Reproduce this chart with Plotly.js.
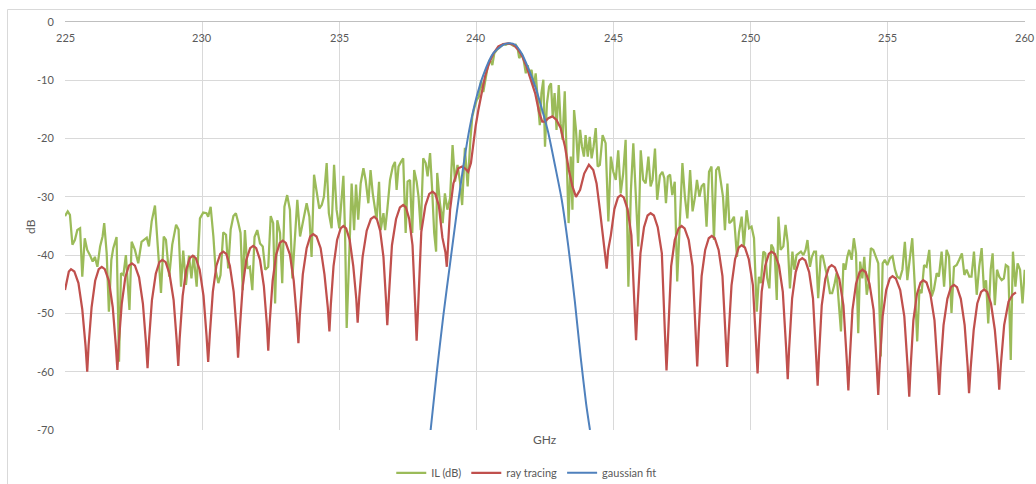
<!DOCTYPE html>
<html>
<head>
<meta charset="utf-8">
<script src="https://cdn.plot.ly/plotly-3.0.1.min.js"></script>
<style>
html,body{margin:0;padding:0;background:#fff;}
#chart{width:1036px;height:484px;}
</style>
</head>
<body>
<div id="chart"></div>
<script>
// ---------- data ----------
const seriesNames = ["IL (dB)", "ray tracing", "gaussian fit"];

const ilFreq = [
225.00,225.10,225.18,225.27,225.36,225.45,225.55,225.63,225.72,225.81,225.91,226.01,226.09,226.18,226.28,226.37,226.43,226.52,226.60,226.69,
226.76,226.88,226.97,227.04,227.13,227.22,227.35,227.43,227.55,227.67,227.79,227.89,227.98,228.06,228.16,228.28,228.40,228.50,228.60,228.68,
228.80,228.91,229.05,229.14,229.23,229.31,229.41,229.52,229.61,229.69,229.80,229.92,230.04,230.16,230.22,230.31,230.41,230.49,230.59,230.67,
230.77,230.87,230.95,231.04,231.14,231.23,231.32,231.40,231.48,231.56,231.65,231.74,231.83,231.91,232.01,232.11,232.21,232.30,232.41,232.50,
232.59,232.66,232.74,232.84,232.92,233.00,233.10,233.20,233.29,233.38,233.47,233.57,
233.71,233.81,233.91,233.99,234.08,234.17,234.27,234.36,234.44,234.54,234.62,
234.72,234.81,234.90,235.00,235.09,235.15,235.21,235.27,235.37,235.45,235.54,235.61,235.69,235.78,235.88,235.96,236.06,236.14,236.22,236.30,
236.36,236.45,236.51,236.61,236.67,236.75,236.85,236.95,237.03,237.09,237.16,237.25,237.33,237.42,237.49,237.58,237.66,237.73,237.82,237.89,
237.97,238.06,238.15,238.22,238.31,238.38,238.46,238.53,238.57,238.67,238.77,238.85,238.94,239.04,239.13,239.22,239.31,239.40,239.48,239.58,
239.68,239.78,239.85,239.92,240.01,240.09,240.17,240.25,240.34,240.41,240.49,240.58,240.65,240.74,240.82,240.90,240.98,241.07,241.16,241.26,
241.35,241.43,241.50,241.56,241.65,241.72,241.80,241.87,241.93,242.01,242.09,242.16,242.23,242.31,242.37,242.44,242.50,242.57,242.65,242.72,
242.78,242.85,242.92,243.00,243.07,243.14,243.22,243.29,243.36,243.44,243.50,243.56,243.63,243.70,243.78,243.85,243.92,243.98,244.06,244.13,
244.20,244.27,244.35,244.42,
244.50,244.60,244.71,244.81,244.90,244.99,245.08,245.17,245.26,245.35,245.44,245.54,245.63,245.72,245.82,245.90,245.99,246.08,246.17,246.27,
246.35,246.42,246.51,246.59,246.69,246.78,246.85,246.91,246.98,247.06,247.14,247.23,247.32,247.42,247.51,247.60,247.69,247.79,247.88,247.97,
248.04,248.13,248.21,248.30,248.39,248.48,248.57,248.66,248.74,248.83,248.91,248.99,249.06,249.15,249.22,249.30,249.39,
249.50,249.57,249.67,249.75,249.85,249.94,250.03,250.12,250.22,250.30,250.37,250.46,250.53,250.60,250.68,250.75,250.82,250.88,250.95,251.01,
251.09,251.19,251.27,251.35,251.43,251.52,251.59,251.67,251.76,251.83,251.92,252.00,252.07,252.16,252.23,252.31,252.38,252.46,252.55,252.62,
252.71,252.79,252.89,252.97,253.05,253.13,253.22,253.29,253.38,253.45,253.52,253.59,253.68,253.76,253.84,253.92,253.99,254.07,254.14,254.23,
254.30,254.38,254.47,254.55,254.65,254.74,254.81,254.89,
254.98,255.08,255.17,255.26,255.34,255.44,255.53,255.62,255.71,255.81,255.89,255.99,256.07,256.15,256.23,256.32,256.41,256.51,256.60,256.68,
256.78,256.86,256.96,257.05,257.14,257.23,257.32,257.41,257.51,257.60,257.70,257.79,257.87,257.97,258.05,258.14,258.24,258.33,258.42,258.50,
258.58,258.66,258.75,258.82,258.90,258.98,259.06,259.15,259.23,259.30,259.39,259.48,259.56,259.65,259.73,259.82,259.91,259.99
];
const ilDb = [
-33.3,-32.5,-33.1,-38.2,-37.4,-35.7,-35.4,-43.7,-37.1,-39.1,-40.0,-41.1,-40.3,-42.0,-38.5,-36.8,-34.5,-39.7,-49.7,-40.8,
-38.8,-36.9,-58.3,-43.1,-43.4,-40.0,-49.4,-37.7,-39.1,-41.4,-37.7,-37.3,-37.0,-38.5,-34.2,-31.5,-39.7,-46.5,-36.8,-37.4,
-43.7,-38.2,-34.8,-35.6,-45.4,-39.2,-45.1,-40.1,-44.0,-40.0,-45.4,-33.7,-32.7,-32.8,-33.4,-31.7,-36.8,-42.5,-44.8,-43.4,
-36.1,-36.5,-42.3,-35.6,-33.3,-32.8,-34.5,-36.2,-46.0,-35.7,-42.3,-42.0,-46.0,-36.9,-35.7,-38.0,-38.5,-42.5,-42.0,-33.3,
-34.5,-48.3,-34.0,-36.2,-44.8,-31.7,-29.7,-32.2,-44.0,-36.8,-30.5,-36.8,
-33.4,-31.1,-33.4,-40.3,-26.2,-29.4,-32.0,-31.4,-30.0,-24.2,-32.8,
-35.4,-24.5,-32.2,-35.4,-30.0,-26.4,-36.2,-52.5,-39.1,-27.7,-35.7,-27.9,-33.9,-27.7,-25.1,-27.1,-31.1,-25.4,-29.4,-32.2,
-33.9,-27.4,-35.7,-32.8,-35.7,-32.2,-27.1,-24.8,-24.0,-28.8,-24.8,-24.0,-23.4,-36.2,-27.4,-27.1,-36.2,-25.4,-27.4,-30.0,
-35.7,-23.4,-24.2,-26.5,-22.5,-28.2,-36.2,-39.4,-25.9,-31.1,-34.5,-29.4,-32.2,-30.2,-21.1,-27.4,-24.5,-27.4,-31.4,-21.6,
-28.2,-20.2,-16.2,-14.8,-13.4,-12.8,-10.0,-12.0,-9.4,-7.7,-6.5,-7.4,-5.4,-4.8,-4.5,-4.1,-3.8,-3.9,-3.7,-3.8,
-4.1,-3.9,-4.5,-6.2,-5.4,-6.5,-8.8,-7.4,-9.1,-8.2,-11.1,-8.8,-12.8,-17.7,-12.2,-9.9,-21.4,-14.0,-11.1,-10.5,
-16.2,-12.2,-18.5,-10.8,-17.4,-20.2,-11.9,-23.7,-34.5,-23.1,-32.2,-15.1,-18.5,-24.2,-18.5,-21.4,-23.1,-19.4,-23.1,-19.7,
-23.4,-21.4,-18.2,-24.8,
-24.5,-19.4,-20.8,-34.2,-23.1,-25.7,-27.1,-22.0,-29.4,-26.0,-20.2,-45.4,-29.1,-20.8,-32.2,-38.5,-22.0,-27.1,-27.7,-23.1,
-28.2,-27.1,-21.7,-30.5,-26.3,-25.7,-26.8,-31.1,-26.5,-26.2,-29.7,-27.4,-44.5,-32.2,-24.2,-30.0,-33.7,-25.4,-32.5,-30.0,
-27.1,-30.0,-28.2,-27.7,-35.1,-25.7,-24.8,-37.4,-25.4,-24.8,-27.1,-30.0,-35.7,-27.7,-34.5,-34.2,-33.4,
-40.3,-36.2,-33.4,-38.5,-32.3,-35.4,-35.1,-37.1,-49.7,-43.7,-44.8,-39.4,-39.7,-43.9,-45.7,-38.2,-38.8,-40.3,-47.7,-33.4,
-39.1,-38.5,-34.8,-37.9,-45.7,-39.4,-42.5,-40.0,-39.7,-39.4,-40.0,-39.1,-37.4,-42.0,-40.3,-39.4,-39.4,-47.4,-40.3,-40.0,
-42.0,-43.7,-46.5,-46.5,-45.1,-43.1,-48.8,-53.1,-41.4,-42.5,-40.3,-39.1,-40.8,-37.1,-39.7,-53.4,-41.1,-44.0,-40.3,-46.8,
-44.8,-38.8,-39.1,-40.0,-41.4,-57.4,-41.4,-40.8,
-41.7,-40.5,-40.2,-42.5,-43.7,-44.0,-42.5,-37.7,-44.3,-40.2,-37.1,-45.9,-54.8,-45.9,-46.5,-41.7,-42.0,-39.1,-47.1,-45.9,
-43.1,-43.7,-39.4,-45.4,-39.1,-40.2,-49.9,-42.0,-41.7,-40.8,-39.7,-43.4,-42.5,-43.7,-43.7,-39.4,-46.8,-42.0,-38.8,-45.7,
-44.3,-51.7,-42.5,-39.7,-48.6,-42.5,-43.7,-44.3,-44.0,-41.7,-42.0,-58.0,-39.4,-45.4,-41.4,-42.5,-48.3,-42.5
];

const rayFreq = [
225.00,225.07,225.14,225.22,225.34,225.49,225.63,225.75,225.81,225.86,225.97,226.10,226.23,226.34,226.45,226.60,226.74,226.85,226.91,
226.96,227.07,227.20,227.33,227.44,227.55,227.70,227.84,227.95,228.01,228.06,228.17,228.31,228.44,228.55,228.67,228.81,228.96,229.07,229.13,
229.18,229.29,229.42,229.55,229.66,229.77,229.91,230.05,230.16,230.22,230.28,230.39,230.52,230.66,230.77,230.88,231.01,231.15,231.26,231.31,
231.37,231.48,231.61,231.75,231.86,231.97,232.11,232.25,232.36,232.41,232.46,232.57,232.70,232.83,232.94,233.05,233.20,233.34,233.45,233.51,
233.56,233.67,233.81,233.94,234.05,234.17,234.32,234.46,234.58,234.64,234.69,234.79,234.92,235.05,235.15,235.25,235.38,235.51,235.62,235.67,
235.73,235.85,236.00,236.15,236.27,236.37,236.49,236.61,236.70,236.75,236.81,236.92,237.07,237.21,237.33,237.43,237.55,237.67,237.77,237.82,
237.88,237.99,238.14,238.28,238.40,238.50,238.63,238.76,238.87,238.92,
239.04,239.16,239.34,239.48,239.58,239.70,239.80,239.89,239.97,240.07,240.19,240.31,240.46,240.62,240.80,240.98,241.16,241.35,241.53,241.67,
241.83,241.99,242.14,242.28,242.40,242.50,242.62,242.77,242.92,243.07,243.23,243.37,243.50,243.63,243.78,243.93,244.10,244.26,244.38,244.50,
244.63,244.69,244.75,
244.80,244.90,245.03,245.16,245.26,245.37,245.51,245.65,245.76,245.82,245.87,245.98,246.11,246.24,246.35,246.47,246.61,246.76,246.87,246.93,
246.99,247.10,247.23,247.37,247.48,247.59,247.74,247.88,247.99,248.05,248.10,248.21,248.34,248.47,248.58,248.69,248.83,248.97,249.08,249.14,
249.19,249.30,249.43,249.56,249.67,249.79,249.93,250.08,250.19,250.25,250.30,250.40,250.53,250.66,250.76,250.88,251.03,251.17,251.29,251.35,
251.40,251.51,251.64,251.77,251.88,251.99,252.13,252.27,252.38,252.44,252.49,252.59,252.72,252.85,252.95,253.07,253.23,253.38,253.50,253.56,
253.61,253.71,253.84,253.97,254.07,254.19,254.33,254.48,254.59,254.65,254.70,254.81,254.94,255.07,255.17,255.29,255.45,255.60,255.72,255.78,
255.83,255.93,256.06,256.19,256.29,256.41,256.55,256.70,256.81,256.87,256.92,257.03,257.17,257.30,257.41,257.52,257.66,257.80,257.91,257.96,
258.02,258.13,258.26,258.40,258.51,258.62,258.76,258.90,259.01,259.06,259.12,259.24,259.40,259.55,259.67
];
const rayDb = [
-46.0,-44.2,-42.8,-42.4,-42.8,-44.8,-49.3,-55.6,-60.0,-55.5,-48.9,-44.4,-42.4,-42.0,-42.4,-44.4,-48.9,-55.3,-59.7,
-55.1,-48.3,-43.8,-41.8,-41.4,-41.8,-43.8,-48.3,-54.9,-59.4,-54.8,-47.7,-43.2,-41.2,-40.8,-41.2,-43.2,-47.7,-54.5,-59.0,
-54.3,-47.0,-42.5,-40.5,-40.1,-40.5,-42.5,-47.0,-53.8,-58.3,-53.6,-46.3,-41.8,-39.8,-39.4,-39.8,-41.8,-46.3,-53.1,-57.6,
-52.8,-45.3,-40.8,-38.8,-38.4,-38.8,-40.8,-45.3,-51.9,-56.4,-51.7,-44.4,-39.9,-37.9,-37.5,-37.9,-39.9,-44.4,-50.7,-55.1,
-50.4,-43.3,-38.8,-36.8,-36.4,-36.8,-38.8,-43.3,-48.9,-53.1,-48.6,-41.9,-37.4,-35.4,-35.0,-35.4,-37.4,-41.9,-47.5,-51.6,
-47.1,-40.3,-35.8,-33.8,-33.4,-33.8,-35.8,-40.3,-47.4,-52.0,-46.9,-38.3,-33.8,-31.8,-31.4,-31.8,-33.8,-38.3,-48.9,-54.7,
-48.3,-36.0,-31.5,-29.5,-29.1,-29.5,-31.5,-37.0,-39.5,-42.0,
-32.2,-27.7,-25.1,-24.8,-25.1,-25.7,-24.2,-20.8,-17.9,-15.1,-11.9,-9.4,-7.1,-5.4,-4.2,-3.77,-3.66,-3.9,-4.8,-5.9,
-7.7,-9.9,-12.2,-15.4,-17.1,-17.1,-16.5,-16.2,-16.8,-18.2,-21.4,-25.4,-28.2,-30.0,-28.8,-26.0,-24.5,-25.4,-27.7,-32.2,
-37.9,-40.3,-42.3,
-39.2,-36.6,-32.1,-30.1,-29.7,-30.1,-32.1,-36.6,-48.4,-54.6,-49.2,-39.7,-35.2,-33.2,-32.8,-33.2,-35.2,-39.7,-53.1,-59.8,
-53.6,-41.9,-37.4,-35.4,-35.0,-35.4,-37.4,-41.9,-53.1,-59.1,-53.5,-43.6,-39.1,-37.1,-36.7,-37.1,-39.1,-43.6,-53.6,-59.2,
-54.0,-45.2,-40.7,-38.7,-38.3,-38.7,-40.7,-45.2,-54.8,-60.3,-55.1,-46.3,-41.8,-39.8,-39.4,-39.8,-41.8,-46.3,-55.8,-61.3,
-56.1,-47.4,-42.9,-40.9,-40.5,-40.9,-42.9,-47.4,-56.9,-62.4,-57.2,-48.6,-44.1,-42.1,-41.7,-42.1,-44.1,-48.6,-57.8,-63.2,
-58.0,-49.4,-44.9,-42.9,-42.5,-42.9,-44.9,-49.4,-58.6,-64.0,-58.9,-50.5,-46.0,-44.0,-43.6,-44.0,-46.0,-50.5,-59.1,-64.3,
-59.3,-51.2,-46.7,-44.7,-44.3,-44.7,-46.7,-51.2,-59.1,-64.0,-59.3,-52.0,-47.5,-45.5,-45.1,-45.5,-47.5,-52.0,-59.1,-63.7,
-59.3,-52.8,-48.3,-46.3,-45.9,-46.3,-48.3,-52.8,-58.8,-63.1,-58.8,-52.0,-48.0,-46.8,-46.4
];

const gaussFreq = [238.33,238.55,238.79,239.04,239.28,239.52,239.76,240.01,240.25,240.61,240.98,241.22,
                   241.41,241.65,241.89,242.14,242.38,242.62,242.86,243.11,243.35,243.59,243.80,244.00,244.14];
const gaussDb   = [-70,-60.3,-50.5,-41.4,-32.8,-24.8,-18.0,-12.8,-9.1,-5.4,-3.9,-3.66,
                   -3.9,-5.4,-7.9,-11.0,-14.8,-19.0,-24.5,-30.5,-38.5,-48.0,-57.5,-65.5,-70];

const xTickVals = [225,230,235,240,245,250,255,260];
const xTickText = ["225","230","235","240","245","250","255","260"];
const yTickVals = [0,-10,-20,-30,-40,-50,-60,-70];
const yTickText = ["0","-10","-20","-30","-40","-50","-60","-70"];

// ---------- chart ----------
const FONT = "Lato, 'Open Sans', 'DejaVu Sans', sans-serif";
const TXT = "#595959";
const GRID = "#d9d9d9";

const traces = [
  {x: ilFreq, y: ilDb, name: seriesNames[0], type: "scatter", mode: "lines",
   line: {color: "#9BBB59", width: 2.25}},
  {x: rayFreq, y: rayDb, name: seriesNames[1], type: "scatter", mode: "lines",
   line: {color: "#C0504D", width: 2.25}},
  {x: gaussFreq, y: gaussDb, name: seriesNames[2], type: "scatter", mode: "lines",
   line: {color: "#4F81BD", width: 2, shape: "spline", smoothing: 0.6}}
];

const annotations = xTickVals.map((v, i) => ({
  x: v, xref: "x", y: 1, yref: "paper", yanchor: "top", xanchor: "center",
  yshift: -7, showarrow: false, text: xTickText[i],
  font: {family: FONT, size: 11, color: TXT}
}));
annotations.push({x: 0.5, xref: "paper", y: -0.0245, yref: "paper", yanchor: "middle",
  showarrow: false, text: "GHz", font: {family: FONT, size: 12, color: TXT}});
annotations.push({x: -0.0365, xref: "paper", y: 0.5, yref: "paper", xanchor: "center", yanchor: "middle",
  textangle: -90, showarrow: false, text: "dB", font: {family: FONT, size: 12, color: TXT}});

const layout = {
  width: 1036, height: 484,
  margin: {l: 65, r: 11, t: 22, b: 54, pad: 0, autoexpand: false},
  paper_bgcolor: "#ffffff", plot_bgcolor: "#ffffff",
  font: {family: FONT, size: 11, color: TXT},
  showlegend: true,
  legend: {orientation: "h", x: 0.481, xanchor: "center", y: -0.105, yanchor: "middle",
           font: {family: FONT, size: 11, color: TXT}, bgcolor: "rgba(0,0,0,0)", itemwidth: 30},
  xaxis: {range: [225, 260], tickvals: xTickVals, showticklabels: false, side: "top",
          showgrid: true, gridcolor: GRID, gridwidth: 1, zeroline: false,
          showline: true, linecolor: "#bfbfbf", linewidth: 1, ticks: "", fixedrange: true},
  yaxis: {range: [-70, 0], tickvals: yTickVals, ticktext: yTickText,
          showgrid: true, gridcolor: GRID, gridwidth: 1, zeroline: false, showline: false,
          ticks: "outside", ticklen: 8, tickcolor: "rgba(0,0,0,0)",
          tickfont: {family: FONT, size: 11, color: TXT}, fixedrange: true},
  annotations: annotations,
  shapes: [{type: "rect", xref: "paper", yref: "paper", x0: -0.0599, x1: 1.3, y0: -0.4, y1: 1.0306,
            line: {color: "#d9d9d9", width: 1}, fillcolor: "rgba(0,0,0,0)", layer: "below"}]
};

Plotly.newPlot("chart", traces, layout, {displayModeBar: false, staticPlot: true});
</script>
</body>
</html>
